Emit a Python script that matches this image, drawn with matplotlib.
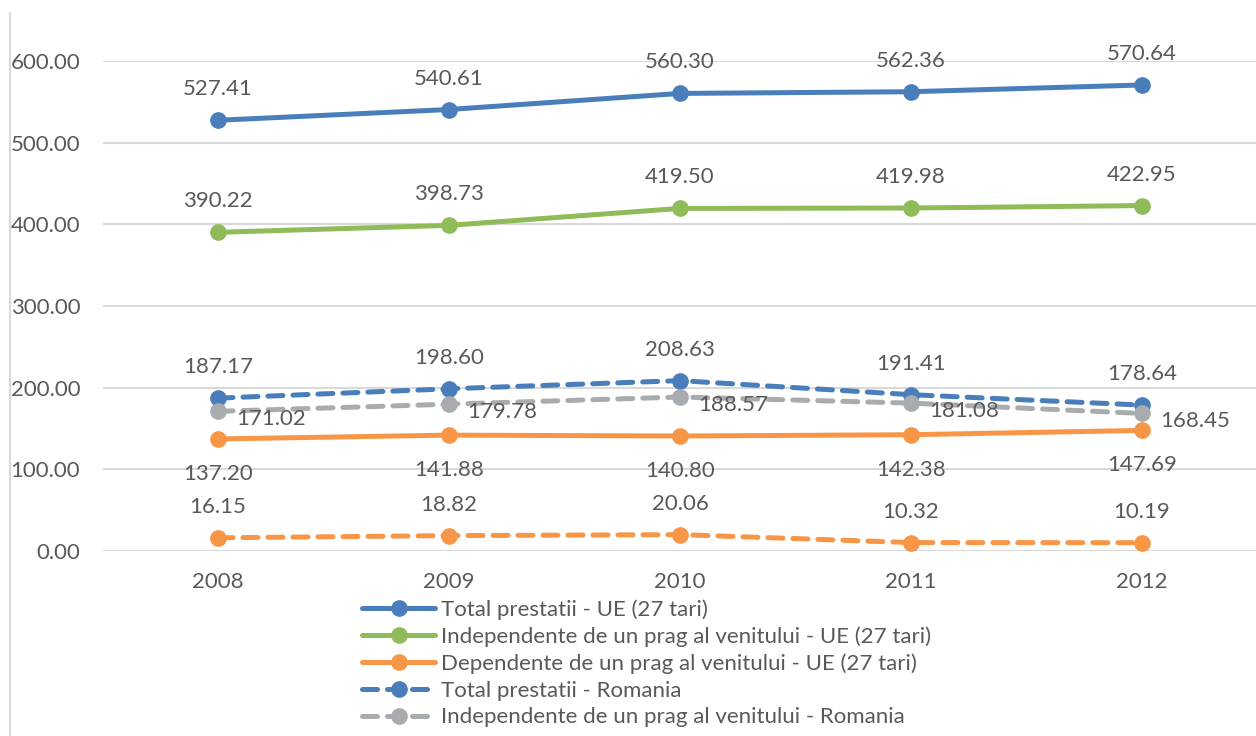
import numpy as np
import matplotlib.pyplot as plt
from matplotlib.lines import Line2D

plt.rcParams['font.family'] = ['Lato', 'DejaVu Sans']

years = ['2008', '2009', '2010', '2011', '2012']

total_ue = [527.41, 540.61, 560.30, 562.36, 570.64]
indep_ue = [390.22, 398.73, 419.50, 419.98, 422.95]
dep_ue = [137.20, 141.88, 140.80, 142.38, 147.69]
total_ro = [187.17, 198.60, 208.63, 191.41, 178.64]
indep_ro = [171.02, 179.78, 188.57, 181.08, 168.45]
dep_ro = [16.15, 18.82, 20.06, 10.32, 10.19]

blue = '#4A7EBB'
green = '#8FBB59'
orange = '#F79646'
gray = '#A9ACAF'
txt = '#595959'
fs = 16

fig = plt.figure(figsize=(12.56, 7.36), dpi=100)
W, H = 1256, 736
ax = fig.add_axes([102.5 / W, (H - 551) / H, 1155 / W, 490 / H])

x = np.arange(len(years))

# (values, colour, dashed, label side, legend text)
series = [
    (total_ue, blue, False, 'above', 'Total prestatii - UE (27 tari)'),
    (indep_ue, green, False, 'above', 'Independente de un prag al venitului - UE (27 tari)'),
    (dep_ue, orange, False, 'below', 'Dependente de un prag al venitului - UE (27 tari)'),
    (total_ro, blue, True, 'above', 'Total prestatii - Romania'),
    (indep_ro, gray, True, 'right', 'Independente de un prag al venitului - Romania'),
    (dep_ro, orange, True, 'above', '_Dependente de un prag al venitului - Romania'),
]

for vals, col, dashed, side, name in series:
    ls = (0, (3, 2)) if dashed else '-'
    ax.plot(x, vals, color=col, lw=3.6, ls=ls, marker='o', ms=11,
            dash_capstyle='round', solid_capstyle='round', label=name, zorder=3)
    for xi, v in zip(x, vals):
        if side == 'above':
            off, ha, va = (0, 31), 'center', 'center'
        elif side == 'below':
            off, ha, va = (0, -35), 'center', 'center'
        else:
            off, ha, va = (18, -8), 'left', 'center'
        ax.annotate(f'{v:.2f}', (xi, v), xytext=off, textcoords='offset pixels',
                    ha=ha, va=va, fontsize=fs, color=txt, zorder=4)

ax.set_xlim(-0.5, 4.5)
ax.set_ylim(0, 600)
ax.set_yticks(np.arange(0, 601, 100))
ax.set_yticklabels([f'{v:.2f}' for v in np.arange(0, 601, 100)])
ax.set_xticks(x)
ax.set_xticklabels(years)
ax.tick_params(axis='both', length=0, labelsize=fs, labelcolor=txt)
ax.tick_params(axis='y', pad=16)
ax.tick_params(axis='x', pad=15)
ax.grid(axis='y', color='#D9D9D9', lw=1.5)
ax.set_axisbelow(True)
for s in ax.spines.values():
    s.set_visible(False)

# chart border on the left
fig.add_artist(Line2D([10 / W, 10 / W], [0, (H - 13) / H], color='#D9D9D9', lw=1.5))

fig.legend(loc='upper left', bbox_to_anchor=(362 / W, (H - 599) / H),
           frameon=False, fontsize=fs, labelcolor=txt, handlelength=3.3,
           handletextpad=0.25, labelspacing=0.3, borderpad=0, borderaxespad=0)

fig.savefig('out.png', dpi=100)
